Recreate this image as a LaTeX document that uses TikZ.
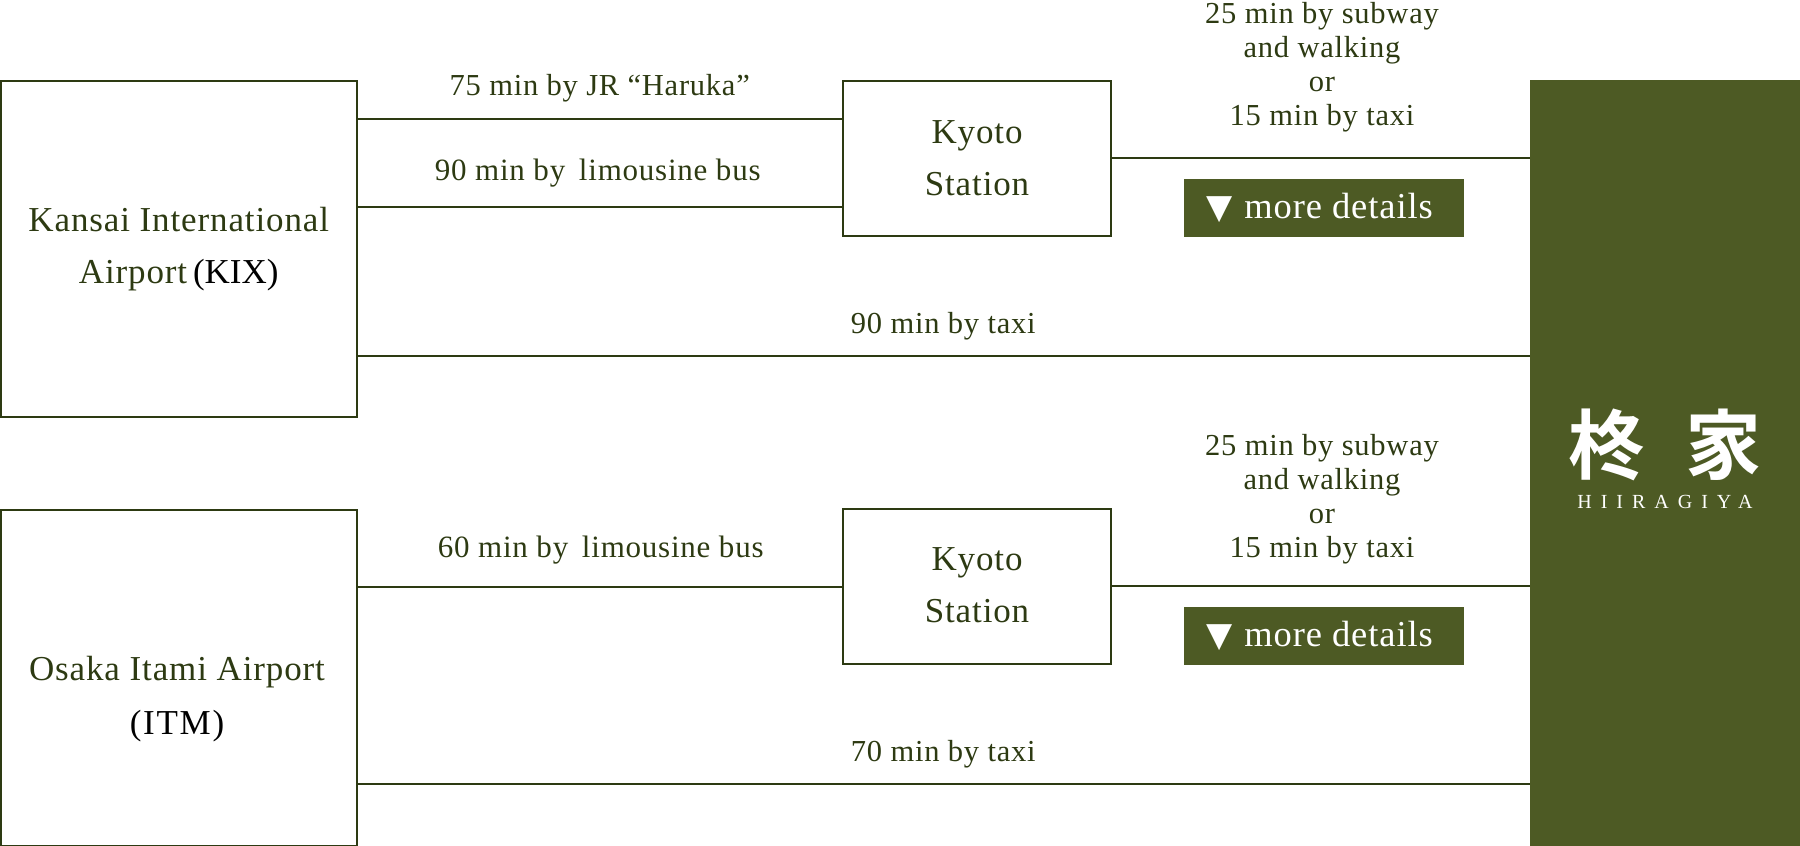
\documentclass[tikz,border=0pt]{standalone}
\usepackage{fontspec}
\setmainfont[LetterSpace=2.5]{Liberation Serif}
\newfontfamily\symfont{DejaVu Sans}
\newfontfamily\cjkfont{Noto Sans CJK JP}[BoldFont={Noto Sans CJK JP Bold}]
\usetikzlibrary{positioning}
\definecolor{ink}{HTML}{2D3A12}
\definecolor{moss}{HTML}{4D5A24}
\tikzset{
  stop/.style={draw=ink, line width=2pt, text=ink, align=center, outer sep=0pt, inner sep=0pt, font=\fontsize{35}{52}\selectfont},
  route/.style={draw=ink, line width=2pt},
  time/.style={text=ink, align=center, inner sep=0pt, font=\fontsize{30.5}{34}\selectfont},
  more/.style={fill=moss, text=white, minimum width=280pt, minimum height=58pt, outer sep=0pt, inner sep=0pt, font=\fontsize{36.5}{36}\selectfont}
}
\begin{document}
\begin{tikzpicture}[x=1pt, y=-1pt, node distance = 9pt]
\useasboundingbox (0,0) rectangle (1800,846);

\node[fill=moss, minimum width=270pt, minimum height=766pt, outer sep=0pt, inner sep=0pt] (inn) at (1665,463) {};
\node[text=white, inner sep=0pt, font=\cjkfont\bfseries\fontsize{76}{76}\selectfont] (logo) at (1665,445) {柊\hspace{42pt}家};
\node[text=white, inner sep=0pt, below=14pt of logo, font=\addfontfeature{LetterSpace=45}\fontsize{20}{20}\selectfont] (name) {HIIRAGIYA};

\node[stop, minimum width=355.5pt, minimum height=336pt] (kix) at (178.75,248.7) {Kansai International\\Airport\,{\color{black}\addfontfeature{LetterSpace=0}(KIX)}};
\node[stop, minimum width=355.5pt, minimum height=336pt] (itm) at (178.75,677.5) {};
\node[text=ink, align=center, inner sep=0pt, font=\fontsize{35}{54}\selectfont] (itm-name) at (177,699.5) {Osaka Itami Airport\\{\color{black}\addfontfeature{LetterSpace=5}(ITM)}};
\node[stop, minimum width=268pt, minimum height=155pt] (sta1) at (977,158.5) {Kyoto\\Station};
\node[stop, minimum width=268pt, minimum height=155pt] (sta2) at (977,586.5) {\raisebox{2pt}{Kyoto}\\\raisebox{2pt}{Station}};

\coordinate (jr) at (357,118.5);
\coordinate (bus1) at (357,206.5);
\coordinate (taxi1) at (357,355.5);
\coordinate (bus2) at (357,586.5);
\coordinate (taxi2) at (357,784);
\coordinate (rail1) at (1111,157.5);
\coordinate (rail2) at (1111,586);

\draw[route] (kix.east |- jr) -- node[time, above=15pt] (jr-time) {75 min by JR “Haruka”} (sta1.west |- jr);
\draw[route] (kix.east |- bus1) -- node[time, above=18pt, xshift=-2pt, font=\fontsize{31}{34}\selectfont] (bus1-time) {90 min by\, limousine bus} (sta1.west |- bus1);
\draw[route] (kix.east |- taxi1) -- node[time, above=14pt] (taxi1-time) {90 min by taxi} (inn.west |- taxi1);
\draw[route] (itm.east |- bus2) -- node[time, above=21pt, xshift=1pt, font=\fontsize{31}{34}\selectfont] (bus2-time) {60 min by\, limousine bus} (sta2.west |- bus2);
\draw[route] (itm.east |- taxi2) -- node[time, above=15pt] (taxi2-time) {70 min by taxi} (inn.west |- taxi2);

\draw[route] (sta1.east |- rail1) -- node[time, above=24pt, xshift=1.5pt] (rail1-time) {25 min by subway\\and walking\\or\\15 min by taxi} (inn.west |- rail1);
\draw[route] (sta2.east |- rail2) -- node[time, above=21pt, xshift=1.5pt] (rail2-time) {25 min by subway\\and walking\\or\\15 min by taxi} (inn.west |- rail2);

\node[more] (more1) at (1324,208) {{\symfont\fontsize{34}{34}\selectfont ▼}\hspace{12pt}more details\kern 9pt};
\node[more] (more2) at (1324,636) {{\symfont\fontsize{34}{34}\selectfont ▼}\hspace{12pt}more details\kern 9pt};
\end{tikzpicture}
\end{document}
